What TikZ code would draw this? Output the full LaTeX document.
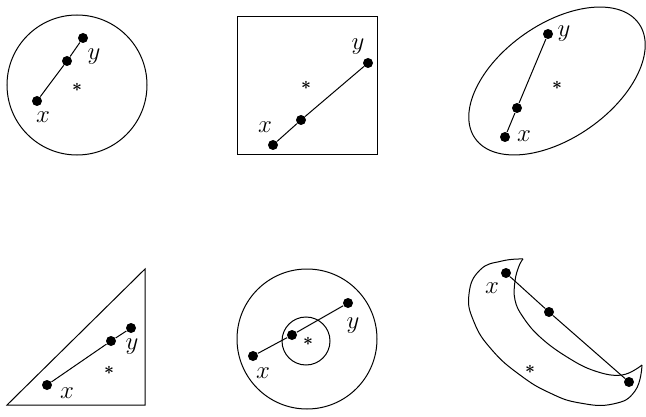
\documentclass[tikz,border=0pt]{standalone}
\usetikzlibrary{positioning}
\begin{document}
\begin{tikzpicture}[x=1pt, y=1pt, line width=1pt,
    dot/.style={circle, fill, inner sep=0pt, minimum size=10pt},
    lbl/.style={inner sep=0pt, font=\fontsize{26}{28}\selectfont},
    ctr/.style={inner sep=0pt, font=\fontsize{17}{17}\selectfont\boldmath}]
    \useasboundingbox (0,0) rectangle (646,416);
    % disc
    \draw (77,331) circle[radius=70];
    \node[ctr] (c1) at (77,329) {$\ast$};
    \node[dot] (x1) at (37,315) {};
    \node[dot] (m1) at (67,355) {};
    \node[dot] (y1) at (83,378) {};
    \draw (x1) -- (m1) -- (y1);
    \node[lbl] (lx1) at (43,299) {$x$};
    \node[lbl] (ly1) at (94,359) {$y$};
    % square
    \draw (237,261) rectangle (377,399);
    \node[ctr] (c2) at (306,331) {$\ast$};
    \node[dot] (x2) at (273,271) {};
    \node[dot] (m2) at (301,296) {};
    \node[dot] (y2) at (368,353) {};
    \draw (x2) -- (m2) -- (y2);
    \node[lbl] (lx2) at (265,289) {$x$};
    \node[lbl] (ly2) at (358,369) {$y$};
    % ellipse
    \draw[rotate around={35:(557,335)}] (557,335) ellipse[x radius=100, y radius=57];
    \node[ctr] (c3) at (557,331) {$\ast$};
    \node[dot] (x3) at (505,279) {};
    \node[dot] (m3) at (517,308) {};
    \node[dot] (y3) at (548,382) {};
    \draw (x3) -- (m3) -- (y3);
    \node[lbl] (lx3) at (524,280) {$x$};
    \node[lbl] (ly3) at (564,382) {$y$};
    % triangle
    \draw (7,11) -- (145,147) -- (145,11) -- cycle;
    \node[ctr] (c4) at (109,46) {$\ast$};
    \node[dot] (x4) at (47,31) {};
    \node[dot] (m4) at (111,75) {};
    \node[dot] (y4) at (131,88) {};
    \draw (x4) -- (m4) -- (y4);
    \node[lbl] (lx4) at (67,23) {$x$};
    \node[lbl] (ly4) at (132,69) {$y$};
    % annulus
    \draw (307,77) circle[radius=70];
    \draw (306,75) circle[radius=24];
    \node[ctr] (c5) at (308,75) {$\ast$};
    \node[dot] (x5) at (253,60) {};
    \node[dot] (m5) at (292,81) {};
    \node[dot] (y5) at (348,113) {};
    \draw (x5) -- (m5) -- (y5);
    \node[lbl] (lx5) at (263,43) {$x$};
    \node[lbl] (ly5) at (353,90) {$y$};
    % crescent
    \draw plot[smooth, tension=0.8] coordinates {(523,157) (502,155) (480,146) (469,122) (474,94) (492,66) (520,41) (550,23) (580,13) (613,12) (635,25) (642,51)};
    \draw plot[smooth, tension=0.7] coordinates {(642,51) (622,41) (595,45) (567,59) (540,79) (523,99) (515,116) (515,135) (519,150) (523,157)};
    \node[ctr] (c6) at (530,47) {$\ast$};
    \node[dot] (x6) at (506,143) {};
    \node[dot] (m6) at (549,104) {};
    \node[dot] (y6) at (629,34) {};
    \draw (x6) -- (m6) -- (y6);
    \node[lbl] (lx6) at (492,128) {$x$};
\end{tikzpicture}
\end{document}
